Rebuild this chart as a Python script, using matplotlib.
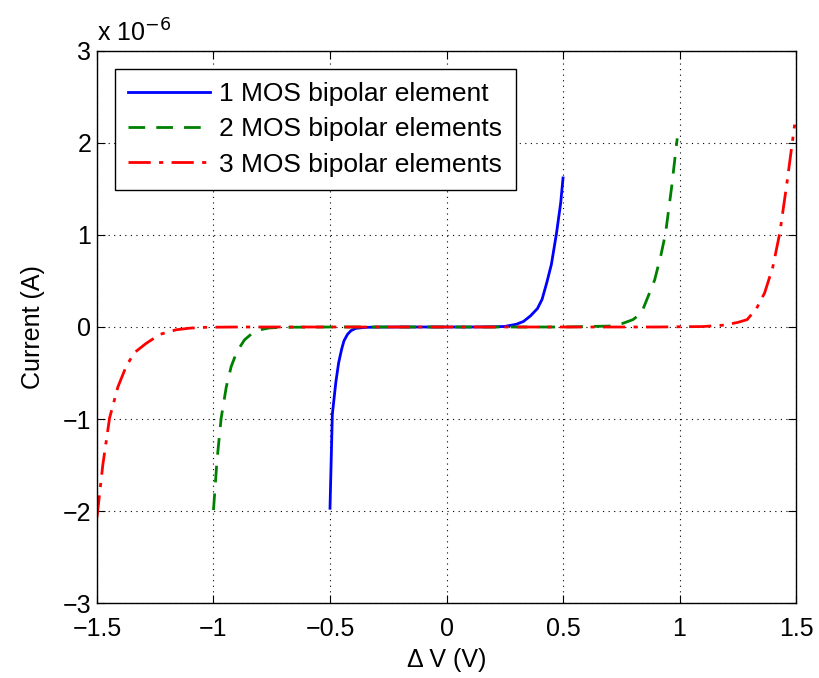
import numpy as np
import matplotlib.pyplot as plt
from matplotlib.ticker import FuncFormatter

plt.rcParams['font.family'] = ['Liberation Sans', 'DejaVu Sans']

# Data (current in units of 1e-6 A)
v1 = [-0.5, -0.49, -0.475, -0.463, -0.45, -0.44, -0.425, -0.41, -0.39, -0.35, -0.3,
      -0.2, -0.1, 0, 0.1, 0.2, 0.25, 0.3, 0.33, 0.36, 0.39, 0.41, 0.43, 0.45, 0.472, 0.49, 0.5]
i1 = [-1.97, -0.95, -0.6, -0.39, -0.24, -0.15, -0.08, -0.04, -0.015, -0.004, -0.001,
      0, 0, 0, 0, 0.002, 0.006, 0.03, 0.06, 0.12, 0.2, 0.3, 0.48, 0.68, 1.02, 1.35, 1.62]

v2 = [-1.0, -0.985, -0.967, -0.945, -0.924, -0.9, -0.867, -0.83, -0.8, -0.76, -0.7, -0.5,
      0, 0.5, 0.7, 0.757, 0.8, 0.836, 0.86, 0.893, 0.92, 0.94, 0.965, 0.99]
i2 = [-1.99, -1.45, -0.99, -0.65, -0.43, -0.27, -0.14, -0.06, -0.03, -0.01, -0.003, 0,
      0, 0, 0.01, 0.04, 0.08, 0.15, 0.3, 0.51, 0.78, 1.02, 1.5, 2.05]

v3 = [-1.5, -1.475, -1.446, -1.41, -1.375, -1.34, -1.29, -1.23, -1.16, -1.1, -1.03, -0.9,
      -0.5, 0, 0.5, 0.9, 1.1, 1.19, 1.25, 1.29, 1.33, 1.365, 1.4, 1.43, 1.46, 1.494]
i3 = [-2.07, -1.5, -0.99, -0.65, -0.43, -0.28, -0.18, -0.08, -0.03, -0.012, -0.003, 0,
      0, 0, 0, 0, 0.005, 0.02, 0.05, 0.08, 0.2, 0.37, 0.65, 1.02, 1.55, 2.2]

labels = ["1 MOS bipolar element", "2 MOS bipolar elements", "3 MOS bipolar elements"]
scale = 1e-6
fs = 18

fig = plt.figure(figsize=(8.19, 6.78), dpi=100)
ax = fig.add_axes([0.1184, 0.1106, 0.8536, 0.8142])

ax.plot(v1, np.array(i1) * scale, color=(0, 0, 1), lw=2, label=labels[0])
ax.plot(v2, np.array(i2) * scale, color=(0, 0.5, 0), lw=2, ls=(0, (6, 4)), label=labels[1])
ax.plot(v3, np.array(i3) * scale, color=(1, 0, 0), lw=2, ls=(0, (8, 3, 1.5, 3)), label=labels[2])

ax.set_xlim(-1.5, 1.5)
ax.set_ylim(-3e-6, 3e-6)
ax.set_xticks([-1.5, -1, -0.5, 0, 0.5, 1, 1.5])
ax.set_yticks(np.arange(-3, 4) * scale)
ax.xaxis.set_major_formatter(FuncFormatter(lambda x, p: f"{x:g}".replace("-", "\u2212")))
ax.yaxis.set_major_formatter(FuncFormatter(lambda y, p: f"{y / scale:.0f}".replace("-", "\u2212")))
ax.tick_params(direction='in', top=True, right=True, length=6, width=0.8, labelsize=fs, pad=4)
ax.tick_params(axis='x', pad=10)
ax.grid(True, linestyle=(0, (1, 4)), color='black', lw=0.8)
for s in ax.spines.values():
    s.set_linewidth(1)

ax.text(0.0, 1.008, "x 10$^{\u22126}$", transform=ax.transAxes, fontsize=fs, ha='left', va='bottom')

ax.set_xlabel("\u0394 V (V)", fontsize=fs, labelpad=5)
ax.set_ylabel("Current (A)", fontsize=fs, labelpad=13)

leg = ax.legend(loc='upper left', bbox_to_anchor=(0.026, 0.967), borderaxespad=0,
                prop={'size': 19}, fancybox=False, framealpha=1, edgecolor='black',
                handlelength=3.1, borderpad=0.5, labelspacing=0.42, handletextpad=0.35)
leg.get_frame().set_linewidth(1)

fig.savefig("out.png", dpi=100)
